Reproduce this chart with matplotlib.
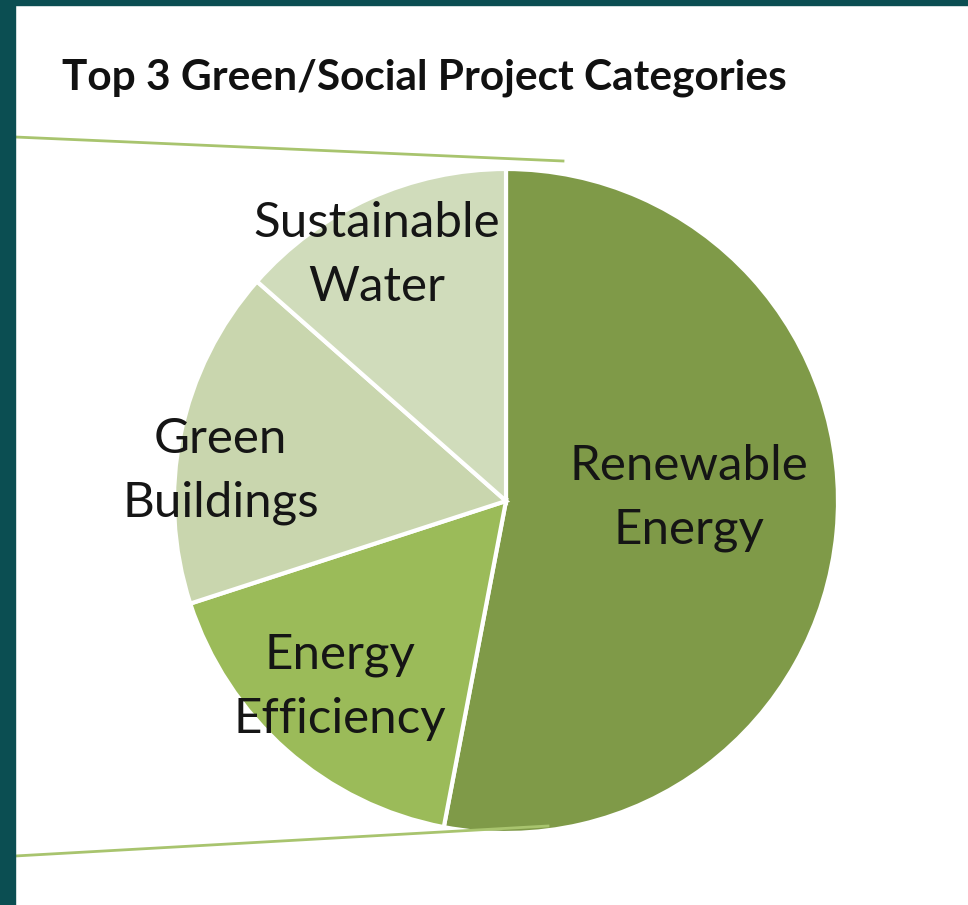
import matplotlib
matplotlib.use("Agg")
import matplotlib.pyplot as plt
from matplotlib.patches import Rectangle
from matplotlib.lines import Line2D

categories = ["Renewable\nEnergy", "Energy\nEfficiency", "Green\nBuildings", "Sustainable\nWater"]
shares = [53.0, 17.0, 16.5, 13.5]
colors = ["#7F9A48", "#9BBB59", "#C9D6AE", "#D0DCBB"]
title = "Top 3 Green/Social Project Categories"

W, H = 968, 905
fig = plt.figure(figsize=(W / 100, H / 100), dpi=100)
fig.patch.set_facecolor("white")

# border
fig.add_artist(Rectangle((0, 0), 15 / W, 1, transform=fig.transFigure, color="#0B4E52", zorder=10))
fig.add_artist(Rectangle((0, 1 - 5 / H), 1, 5 / H, transform=fig.transFigure, color="#0B4E52", zorder=10))

# connector lines
def px(x, y):
    return x / W, 1 - y / H
for (x0, y0), (x1, y1) in [((15, 137), (563, 161)), ((15, 856), (548, 826))]:
    a, b = px(x0, y0)
    c, d = px(x1, y1)
    fig.add_artist(Line2D([a, c], [b, d], transform=fig.transFigure, color="#A8C46E", lw=2.0, zorder=1))

cx, cy, r = 506, 501, 332
ax = fig.add_axes([(cx - r) / W, (H - cy - r) / H, 2 * r / W, 2 * r / H])
ax.pie(shares, colors=colors, startangle=90, counterclock=False, radius=1,
       wedgeprops=dict(edgecolor="white", linewidth=3))
ax.set_xlim(-1.0, 1.0)
ax.set_ylim(-1.0, 1.0)
ax.set_aspect("equal")
ax.axis("off")

label_pos = [(0.55, 0.01), (-0.50, -0.56), (-0.86, 0.09), (-0.39, 0.74)]
for lab, (x, y) in zip(categories, label_pos):
    ax.text(x, y, lab, ha="center", va="center", fontsize=35.5, family="Lato",
            color="#151515", linespacing=1.55)

fig.text(62 / W, 1 - 78 / H, title, ha="left", va="center", fontsize=30.5,
         family="Lato", fontweight="bold", color="#111111")

fig.savefig("out.png", dpi=100, facecolor="white")
